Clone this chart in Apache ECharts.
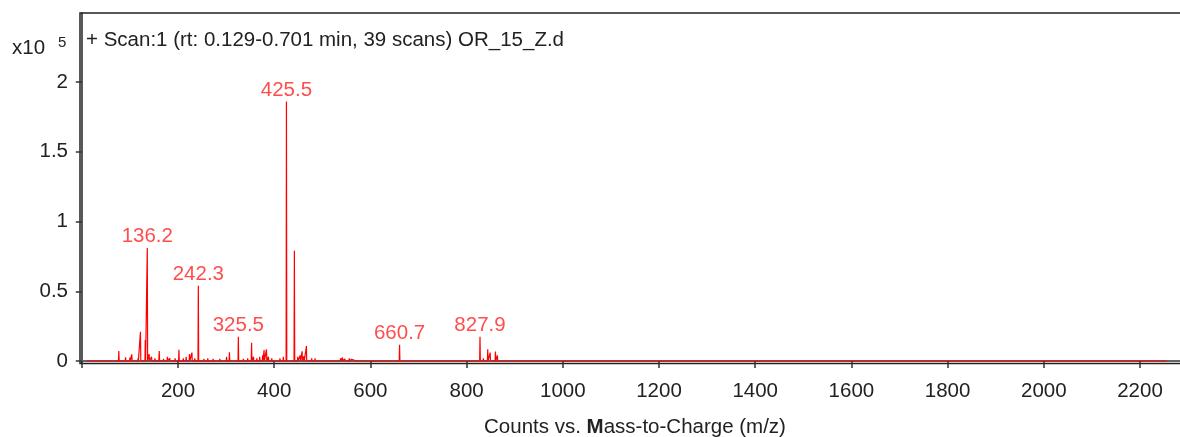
<!DOCTYPE html>
<html>
<head>
<meta charset="utf-8">
<script src="https://cdn.jsdelivr.net/npm/echarts@6/dist/echarts.min.js"></script>
<style>
  html, body { margin: 0; padding: 0; background: #fff; }
  #chart { width: 1180px; height: 437px; }
</style>
</head>
<body>
<div id="chart"></div>
<script>
// Centroided peaks: m/z and intensity (counts x10^5)
const peakMz = [
  24, 77, 84, 91, 100, 104, 117, 122, 132, 136.2, 140, 145, 152, 161, 170, 178, 183, 194,
  202, 211, 217, 224, 229, 235, 242.3, 254, 262, 273, 287, 301, 307, 325.5, 336, 345,
  353, 357, 364, 370, 376, 379, 384, 388, 395, 412, 419, 425.5, 442, 449, 454, 458, 462,
  467, 478, 485, 520, 529, 538, 542, 547, 556, 561, 572, 613, 630, 642, 649, 660.7,
  790, 797, 827.9, 835, 844, 849, 860, 864
];
const peakIntensity = [
  0.010, 0.072, 0.012, 0.027, 0.025, 0.048, 0.020, 0.21, 0.15, 0.81, 0.05, 0.03, 0.02, 0.072, 0.015, 0.03, 0.02, 0.02,
  0.081, 0.02, 0.03, 0.05, 0.06, 0.02, 0.54, 0.015, 0.02, 0.015, 0.015, 0.03, 0.062, 0.174, 0.015, 0.02,
  0.13, 0.03, 0.02, 0.03, 0.04, 0.079, 0.083, 0.03, 0.02, 0.02, 0.03, 1.86, 0.79, 0.03, 0.04, 0.07, 0.035,
  0.107, 0.02, 0.02, 0.01, 0.01, 0.02, 0.025, 0.015, 0.02, 0.012, 0.01, 0.01, 0.01, 0.01, 0.012, 0.117,
  0.01, 0.012, 0.174, 0.02, 0.084, 0.06, 0.067, 0.04
];
// Acquired m/z range (baseline extent)
const scanRange = [10, 2256];
// Annotated peaks
const labeledMz = [136.2, 242.3, 325.5, 425.5, 660.7, 827.9];
// Axis ticks
const xTicks = [0, 200, 400, 600, 800, 1000, 1200, 1400, 1600, 1800, 2000, 2200];
const xTickLabels = [200, 400, 600, 800, 1000, 1200, 1400, 1600, 1800, 2000, 2200];
const yTicks = [0, 0.5, 1, 1.5, 2];

const titleText = '+ Scan:1 (rt: 0.129-0.701 min, 39 scans) OR_15_Z.d';
const FONT = '"Liberation Sans", Arial, sans-serif';
const FS = 20.5;

// Stick spectrum: each peak drawn as a narrow spike on the zero baseline
const spectrum = [[scanRange[0], 0]];
peakMz.forEach((m, i) => {
  spectrum.push([m - 0.7, 0], [m, peakIntensity[i]], [m + 0.7, 0]);
});
spectrum.push([scanRange[1], 0]);

const labelPoints = labeledMz.map(m => [m, peakIntensity[peakMz.indexOf(m)]]);

const chart = echarts.init(document.getElementById('chart'), null, { renderer: 'canvas' });
chart.setOption({
  animation: false,
  backgroundColor: '#fff',
  grid: {
    left: 80, top: 13, right: -10, bottom: 73.5,
    outerBoundsMode: 'none',
    containLabel: false,
    show: true, borderColor: '#222', borderWidth: 1.5, backgroundColor: 'transparent'
  },
  xAxis: {
    type: 'value',
    min: -3.7, max: 2304,
    splitLine: { show: false },
    axisLine: { show: true, lineStyle: { color: '#666', width: 2 } },
    axisTick: {
      show: true, customValues: xTicks, length: 7, inside: false,
      lineStyle: { color: '#333', width: 1.5 }
    },
    axisLabel: {
      customValues: xTickLabels, margin: 17,
      color: '#222', fontSize: FS, fontFamily: FONT,
      formatter: v => String(v)
    },
    name: '{a|Counts vs. }{b|M}{a|ass-to-Charge (m/z)}',
    nameLocation: 'middle',
    nameGap: 53,
    nameTextStyle: {
      rich: {
        a: { fontSize: FS, fontFamily: FONT, color: '#222' },
        b: { fontSize: FS, fontFamily: FONT, color: '#222', fontWeight: 'bold' }
      }
    }
  },
  yAxis: {
    type: 'value',
    min: -0.018, max: 2.495,
    splitLine: { show: false },
    axisLine: { show: true, lineStyle: { color: '#222', width: 1.5 } },
    axisTick: {
      show: true, customValues: yTicks, length: 6,
      lineStyle: { color: '#333', width: 1.5 }
    },
    axisLabel: {
      customValues: yTicks, margin: 12,
      color: '#222', fontSize: FS, fontFamily: FONT,
      formatter: v => String(v)
    }
  },
  graphic: [
    { type: 'text', left: 86, top: 30, style: { text: titleText, fontSize: FS, fontFamily: FONT, fill: '#222' } },
    { type: 'text', left: 12, top: 38, style: { text: 'x10', fontSize: FS, fontFamily: FONT, fill: '#222' } },
    { type: 'text', left: 58, top: 35, style: { text: '5', fontSize: 15, fontFamily: FONT, fill: '#222' } }
  ],
  series: [
    {
      type: 'line',
      data: spectrum,
      showSymbol: false,
      symbol: 'none',
      lineStyle: { color: '#ff0000', width: 1.2 },
      z: 3
    },
    {
      type: 'scatter',
      data: labelPoints,
      symbolSize: 0,
      silent: true,
      label: {
        show: true, position: 'top', distance: 1,
        formatter: p => p.value[0].toFixed(1),
        color: '#ff1f1f', fontSize: FS, fontFamily: FONT
      },
      z: 4
    }
  ]
});
</script>
</body>
</html>
